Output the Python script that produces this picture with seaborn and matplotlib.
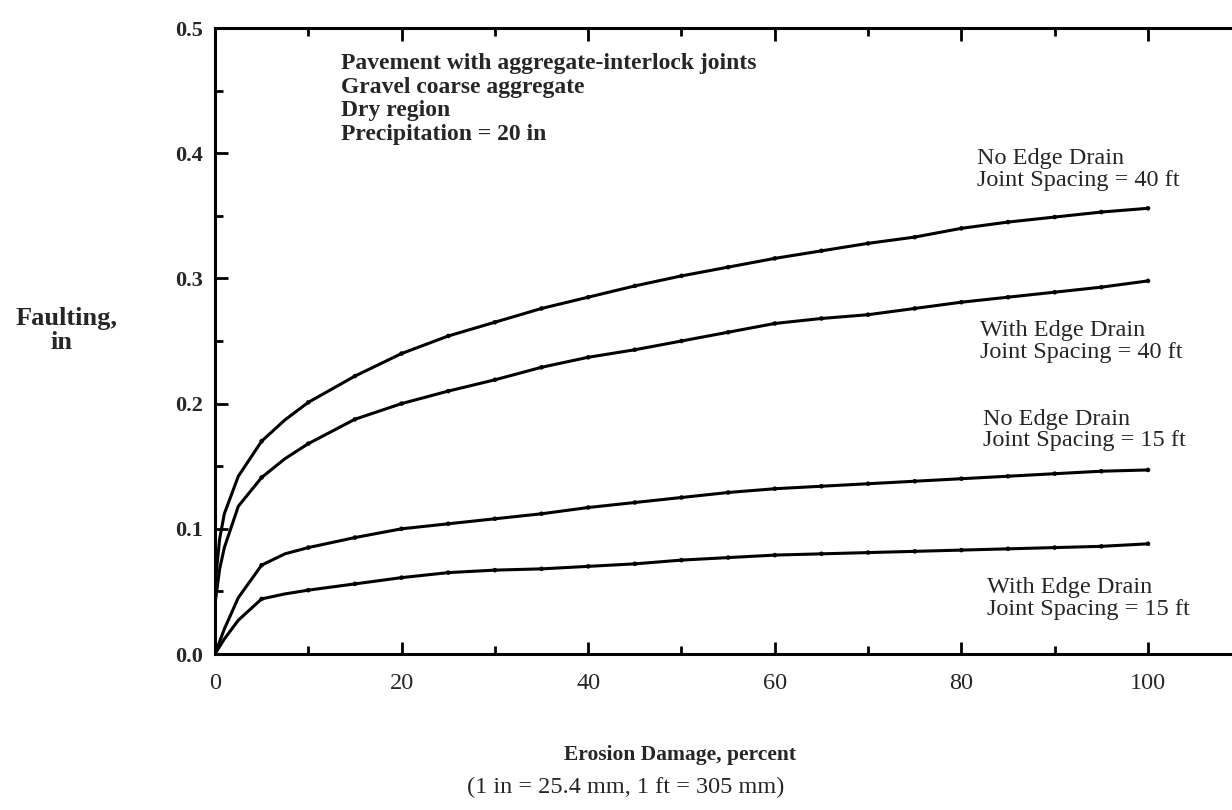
import matplotlib
matplotlib.use("Agg")
import matplotlib.pyplot as plt
from matplotlib.ticker import MultipleLocator
import pandas as pd
import seaborn as sns

# Erosion damage (percent) at which faulting was computed
erosion = [0, 0.5, 1, 2.5, 5, 7.5, 10, 15, 20, 25, 30, 35, 40, 45, 50, 55, 60, 65, 70, 75, 80, 85, 90, 95, 100]

# Faulting (in) for each drainage / joint-spacing case
no_drain_40 = [0.055, 0.092, 0.112, 0.142, 0.170, 0.187, 0.201, 0.222, 0.240, 0.254, 0.265, 0.276, 0.285,
               0.294, 0.302, 0.309, 0.316, 0.322, 0.328, 0.333, 0.340, 0.345, 0.349, 0.353, 0.356]
with_drain_40 = [0.040, 0.068, 0.085, 0.118, 0.141, 0.156, 0.168, 0.1875, 0.200, 0.210, 0.219, 0.229, 0.237,
                 0.243, 0.250, 0.257, 0.264, 0.268, 0.271, 0.276, 0.281, 0.285, 0.289, 0.293, 0.298]
no_drain_15 = [0.0, 0.010, 0.020, 0.045, 0.071, 0.080, 0.085, 0.093, 0.100, 0.104, 0.108, 0.112, 0.117,
               0.121, 0.125, 0.129, 0.132, 0.134, 0.136, 0.138, 0.140, 0.142, 0.144, 0.146, 0.147]
with_drain_15 = [0.0, 0.006, 0.012, 0.027, 0.044, 0.048, 0.051, 0.056, 0.061, 0.065, 0.067, 0.068, 0.070,
                 0.072, 0.075, 0.077, 0.079, 0.080, 0.081, 0.082, 0.083, 0.084, 0.085, 0.086, 0.088]

series_names = ["No Edge Drain\nJoint Spacing = 40 ft",
                "With Edge Drain\nJoint Spacing = 40 ft",
                "No Edge Drain\nJoint Spacing = 15 ft",
                "With Edge Drain\nJoint Spacing = 15 ft"]
series_values = [no_drain_40, with_drain_40, no_drain_15, with_drain_15]

# caption anchor (x, top y) for each curve
label_x = [81.7, 82.0, 82.3, 82.7]
label_y = [0.404, 0.267, 0.196, 0.0615]

x_ticks = [0, 20, 40, 60, 80, 100]
y_ticks = [0.0, 0.1, 0.2, 0.3, 0.4, 0.5]

info_lines = ["Pavement with aggregate-interlock joints",
              "Gravel coarse aggregate",
              "Dry region",
              "Precipitation = 20 in"]

df = pd.concat([pd.DataFrame({"erosion": erosion, "faulting": v, "case": n})
                for n, v in zip(series_names, series_values)], ignore_index=True)
dots = df[(df["erosion"] % 5 == 0) & (df["erosion"] > 0)]

sns.set_theme(style="white")
plt.rcParams["font.family"] = ["Liberation Serif", "DejaVu Serif"]

fig = plt.figure(figsize=(12.32, 8.10), dpi=100)
W, H = 1232, 810
left, bottom_px, top_px = 215, 654, 28
x_max = 110
px_per_x = 9.33
ax = fig.add_axes([left / W, 1 - bottom_px / H, x_max * px_per_x / W, (bottom_px - top_px) / H])

black = ["black"] * len(series_names)
sns.lineplot(data=df, x="erosion", y="faulting", hue="case", palette=black,
             linewidth=2.2, legend=False, ax=ax, sort=True)
sns.scatterplot(data=dots, x="erosion", y="faulting", hue="case", palette=black,
                s=9, legend=False, ax=ax, edgecolor="black", zorder=3)

ax.set_xlim(0, x_max)
ax.set_ylim(0, 0.5)
ax.set_xticks(x_ticks)
ax.set_xticklabels([str(t) for t in x_ticks], fontsize=17.5)
ax.set_yticks(y_ticks)
ax.set_yticklabels([f"{t:.1f}" for t in y_ticks], fontsize=16, fontweight="bold")
ax.xaxis.set_minor_locator(MultipleLocator(10))
ax.yaxis.set_minor_locator(MultipleLocator(0.05))
ax.tick_params(axis="x", which="both", direction="in", top=True, bottom=True,
               labeltop=False, pad=14, color="black", width=2)
ax.tick_params(axis="y", which="both", direction="in", left=True, right=False,
               pad=9, color="black", width=2)
ax.tick_params(which="major", length=9)
ax.tick_params(which="minor", length=6)
for side in ["left", "bottom", "top", "right"]:
    ax.spines[side].set_color("black")
    ax.spines[side].set_linewidth(2.2)
ax.set_xlabel("")
ax.set_ylabel("")
ax.grid(False)

ax.text(13.5, 0.480, "\n".join(info_lines), fontsize=17, fontweight="bold",
        va="top", ha="left", linespacing=1.16)

for name, lx, ly in zip(series_names, label_x, label_y):
    ax.text(lx, ly, name, fontsize=17.5, va="top", ha="left", linespacing=1.05)

fig.text(67 / W, 1 - 318 / H, "Faulting,", fontsize=19, fontweight="bold",
         ha="center", va="center")
fig.text(61 / W, 1 - 342 / H, "in", fontsize=19, fontweight="bold",
         ha="center", va="center")
fig.text(680 / W, 1 - 755 / H, "Erosion Damage, percent", fontsize=15.5,
         fontweight="bold", ha="center", va="center")
fig.text(626 / W, 1 - 787 / H, "(1 in = 25.4 mm, 1 ft = 305 mm)", fontsize=17.5,
         ha="center", va="center")

fig.savefig("out.png", dpi=100)
